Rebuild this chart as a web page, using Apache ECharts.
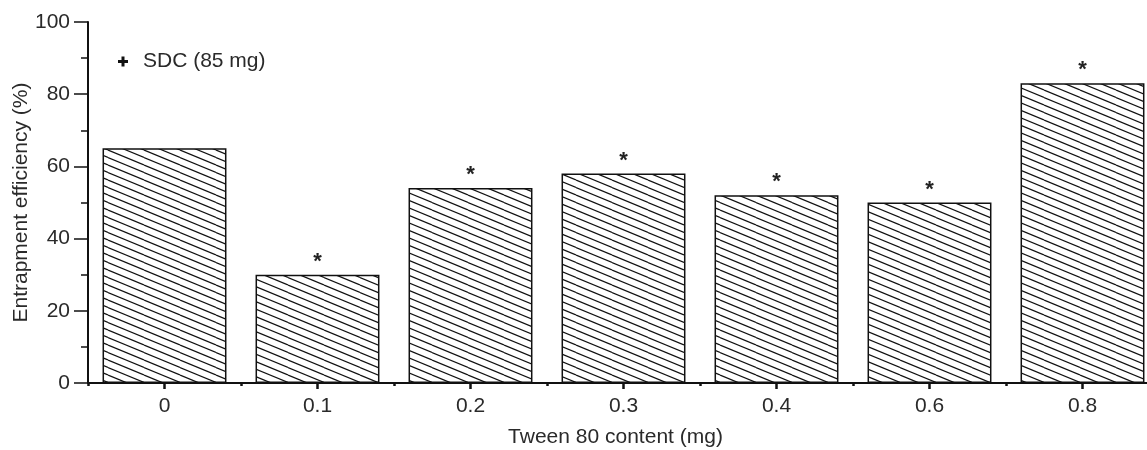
<!DOCTYPE html>
<html><head><meta charset="utf-8">
<script src="https://cdn.jsdelivr.net/npm/echarts@6/dist/echarts.min.js"></script>
<style>html,body{margin:0;padding:0;background:#fff}#c{width:1147px;height:450px}</style>
</head><body><div id="c"></div>
<script>
const categories = ['0', '0.1', '0.2', '0.3', '0.4', '0.6', '0.8'];
const efficiency = [65, 30, 54, 58, 52, 50, 83];
const significance = ['', '*', '*', '*', '*', '*', '*'];
const yTicks = [0, 20, 40, 60, 80, 100];
const seriesName = 'SDC (85 mg)';

function hatch() {
  const W = 36, H = 15, c = document.createElement('canvas');
  c.width = W; c.height = H;
  const g = c.getContext('2d');
  g.fillStyle = '#fff'; g.fillRect(0, 0, W, H);
  g.strokeStyle = '#111'; g.lineWidth = 1.2;
  for (let k = -2; k <= 2; k++) {
    g.beginPath();
    g.moveTo(0, k * 7.5); g.lineTo(W, H + k * 7.5); g.stroke();
  }
  return c;
}

const chart = echarts.init(document.getElementById('c'), null, {renderer: 'canvas'});
const font = 'Liberation Sans, Arial, sans-serif';
const txt = '#2a2a2a';
chart.setOption({
  animation: false,
  textStyle: {fontFamily: font},
  grid: {left: 88, right: -12, top: 22, bottom: 67, containLabel: false, outerBoundsMode: 'none'},
  legend: {
    show: true, left: 113, top: 46, icon: 'path://M3.5,0H6.5V3.5H10V6.5H6.5V10H3.5V6.5H0V3.5H3.5Z',
    itemWidth: 10, itemHeight: 11,
    itemStyle: {color: '#111', borderWidth: 0},
    textStyle: {fontSize: 21, color: txt, fontFamily: font, padding: [0, 0, 0, 10]},
    data: [seriesName]
  },
  xAxis: [{
    type: 'category', data: categories,
    name: 'Tween 80 content (mg)', nameLocation: 'middle', nameGap: 44,
    nameTextStyle: {fontSize: 21, color: txt, padding: [0, 16, 0, 0]},
    axisLine: {lineStyle: {color: '#111', width: 2}},
    axisTick: {show: true, alignWithLabel: true, length: 6, lineStyle: {color: '#111', width: 2.5}},
    axisLabel: {fontSize: 21, color: txt, margin: 13}
  }, {
    type: 'category', data: categories, position: 'bottom',
    axisLine: {show: false},
    axisTick: {show: true, length: 3, lineStyle: {color: '#111', width: 2.5}},
    axisLabel: {show: false}
  }],
  yAxis: {
    type: 'value', min: yTicks[0], max: yTicks[yTicks.length - 1], interval: 20,
    name: 'Entrapment efficiency (%)', nameLocation: 'middle', nameGap: 56, nameMoveOverlap: false,
    nameTextStyle: {fontSize: 21, color: txt},
    axisLine: {show: true, lineStyle: {color: '#111', width: 2}},
    axisTick: {show: true, inside: false, length: 14, lineStyle: {color: '#111', width: 1.5}},
    minorTick: {show: true, splitNumber: 2, length: 7, lineStyle: {color: '#111', width: 1.5}},
    splitLine: {show: false},
    axisLabel: {fontSize: 21, color: txt, margin: 18}
  },
  series: [{
    name: seriesName, type: 'bar', data: efficiency, barWidth: '81%',
    itemStyle: {color: {image: hatch(), repeat: 'repeat'}, borderColor: '#111', borderWidth: 1.5},
    label: {
      show: true, position: 'top', distance: 2,
      formatter: p => significance[p.dataIndex],
      fontSize: 22, fontWeight: 'bold', color: '#222', fontFamily: font
    }
  }]
});
</script></body></html>
